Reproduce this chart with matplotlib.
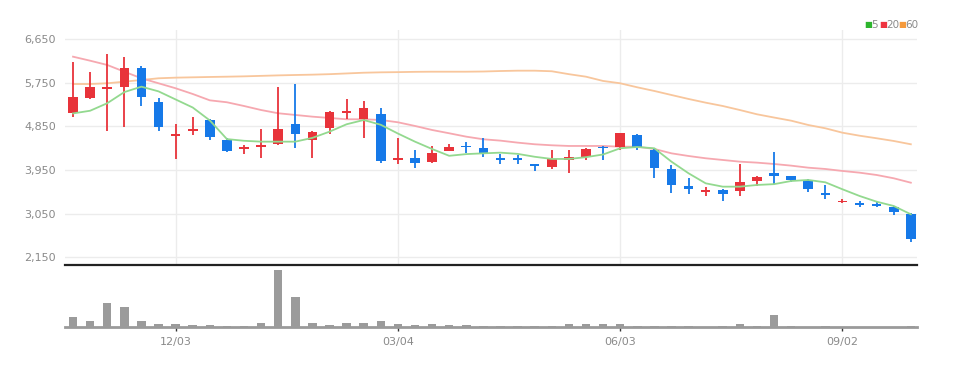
import matplotlib
matplotlib.use("Agg")
import matplotlib.pyplot as plt
import numpy as np
import pandas as pd

# weekly candles
dates = pd.date_range("2024-10-22", periods=50, freq="7D")
tick_dates = ["2024-12-03", "2025-03-04", "2025-06-03", "2025-09-02"]

opens = [5135, 5440, 5620, 5665, 6065, 5360, 4650, 4755, 4985, 4570,
         4385, 4430, 4490, 4895, 4570, 4815, 5135, 5000, 5110, 4155,
         4195, 4110, 4350, 4445, 4400, 4200, 4195, 4070, 4010, 4160,
         4215, 4435, 4435, 4675, 4365, 3975, 3620, 3500, 3540, 3525,
         3725, 3885, 3830, 3745, 3485, 3285, 3265, 3250, 3195, 3040]
highs = [6175, 5980, 6340, 6290, 6105, 5445, 4900, 5040, 5005, 4605,
         4470, 4790, 5660, 5725, 4760, 5170, 5410, 5385, 5225, 4620,
         4365, 4450, 4490, 4535, 4605, 4275, 4260, 4080, 4365, 4365,
         4415, 4440, 4715, 4690, 4385, 4055, 3780, 3595, 3555, 4070,
         3820, 4320, 3835, 3775, 3635, 3360, 3320, 3300, 3210, 3060]
lows = [5040, 5420, 4755, 4845, 5275, 4765, 4175, 4675, 4570, 4330,
        4285, 4195, 4470, 4400, 4205, 4695, 5000, 4605, 4090, 4075,
        3985, 4100, 4340, 4310, 4215, 4070, 4075, 3930, 3975, 3895,
        4160, 4160, 4365, 4365, 3780, 3485, 3455, 3415, 3320, 3420,
        3620, 3665, 3705, 3505, 3350, 3265, 3185, 3185, 3025, 2460]
closes = [5465, 5665, 5650, 6065, 5465, 4845, 4690, 4800, 4640, 4350,
          4415, 4465, 4790, 4690, 4745, 5155, 5175, 5225, 4140, 4190,
          4090, 4310, 4420, 4420, 4275, 4160, 4165, 4030, 4180, 4215,
          4385, 4400, 4710, 4435, 3985, 3645, 3555, 3540, 3450, 3700,
          3815, 3835, 3745, 3555, 3445, 3320, 3230, 3210, 3090, 2520]

ma5 = [5120, 5175, 5330, 5560, 5672, 5575, 5408, 5242, 4975, 4590,
       4555, 4537, 4537, 4537, 4615, 4743, 4896, 4984, 4885, 4705,
       4537, 4385, 4245, 4280, 4296, 4310, 4285, 4225, 4180, 4180,
       4217, 4272, 4400, 4427, 4400, 4124, 3884, 3677, 3608, 3608,
       3643, 3660, 3725, 3746, 3698, 3554, 3416, 3298, 3209, 3038]
ma20 = [6291, 6208, 6120, 5981, 5845, 5742, 5639, 5521, 5390, 5350,
        5273, 5190, 5123, 5088, 5053, 5026, 4999, 4999, 4984, 4937,
        4861, 4778, 4710, 4640, 4586, 4558, 4517, 4483, 4462, 4448,
        4448, 4448, 4433, 4433, 4386, 4296, 4241, 4194, 4159, 4124,
        4104, 4076, 4042, 4000, 3973, 3932, 3897, 3849, 3781, 3690]
ma60 = [5727, 5727, 5742, 5775, 5810, 5845, 5858, 5865, 5872, 5878,
        5885, 5895, 5905, 5913, 5920, 5930, 5945, 5960, 5968, 5972,
        5978, 5981, 5981, 5981, 5985, 5995, 6002, 6002, 5990, 5930,
        5878, 5790, 5742, 5659, 5583, 5500, 5418, 5342, 5273, 5190,
        5102, 5035, 4970, 4881, 4813, 4722, 4660, 4607, 4551, 4483]

volumes = [188, 120, 460, 374, 120, 54, 54, 40, 40, 26,
           26, 80, 1088, 574, 80, 46, 80, 80, 120, 54,
           40, 54, 40, 40, 26, 26, 26, 26, 26, 54,
           54, 54, 54, 26, 26, 26, 26, 2, 26, 54,
           26, 220, 26, 2, 26, 8, 2, 2, 2, 26]

price_ticks = [2150, 3050, 3950, 4850, 5750, 6650]

UP = "#e8333a"
DOWN = "#1679e8"
GRID = "#ececec"
TXT = "#8a8a8a"
font = ["Liberation Sans Narrow", "DejaVu Sans"]
plt.rcParams["font.family"] = font

x = np.arange(len(dates))
tick_idx = [list(dates.strftime("%Y-%m-%d")).index(d) for d in tick_dates]
tick_lbl = [pd.Timestamp(d).strftime("%m/%d") for d in tick_dates]

fig = plt.figure(figsize=(9.6, 3.67), dpi=100)
ax = fig.add_axes([0.0677, 0.2807, 0.8875, 0.6376])
axv = fig.add_axes([0.0677, 0.109, 0.8875, 0.169])

o = np.array(opens); c = np.array(closes)
colors = [UP if cc >= oo else DOWN for oo, cc in zip(o, c)]
bottom = np.minimum(o, c)
height = np.maximum(np.abs(c - o), 35)

ax.vlines(x, lows, highs, colors=colors, linewidth=1.3, zorder=3)
ax.bar(x, height, bottom=bottom, width=0.56, color=colors, zorder=4)

ax.plot(x, ma60, color="#f8c69c", lw=1.3, zorder=2)
ax.plot(x, ma20, color="#f6a8b0", lw=1.3, zorder=2)
ax.plot(x, ma5, color="#93d98f", lw=1.3, zorder=5)

ax.set_xlim(-0.47, 49.36)
ax.set_ylim(2012, 6842)
ax.set_yticks(price_ticks)
ax.set_yticklabels([f"{v:,}" for v in price_ticks])
ax.set_xticks(tick_idx)
ax.tick_params(axis="x", bottom=False, labelbottom=False)
ax.tick_params(axis="y", left=False, labelsize=8, colors=TXT, pad=3)
ax.grid(True, color=GRID, lw=1)
ax.set_axisbelow(True)
for s in ax.spines.values():
    s.set_visible(False)

axv.bar(x, volumes, width=0.5, color="#9b9b9b", zorder=3)
axv.set_xlim(-0.47, 49.36)
axv.set_ylim(0, max(volumes) * 1.085)
axv.set_yticks([])
axv.set_xticks(tick_idx)
axv.set_xticklabels(tick_lbl)
axv.tick_params(axis="x", length=3, width=1, color="#333333", labelsize=8,
                labelcolor=TXT, pad=4)
for s in ["left", "right"]:
    axv.spines[s].set_visible(False)
axv.spines["top"].set_color("#222222")
axv.spines["top"].set_linewidth(1.6)
axv.spines["bottom"].set_color("#9a9a9a")
axv.spines["bottom"].set_linewidth(2)

# legend
items = [("5", "#2db52d"), ("20", "#ee3340"), ("60", "#f59a3c")]
xs = [864, 879, 898]
for (lbl, col), xx in zip(items, xs):
    fig.text(xx / 960, 1 - 25 / 367, "\u25A0", color=col, fontsize=6,
             va="center", family=["DejaVu Sans"])
    fig.text((xx + 7) / 960, 1 - 25 / 367, lbl, color=TXT, fontsize=7.5,
             va="center")

fig.savefig("out.png", dpi=100)
